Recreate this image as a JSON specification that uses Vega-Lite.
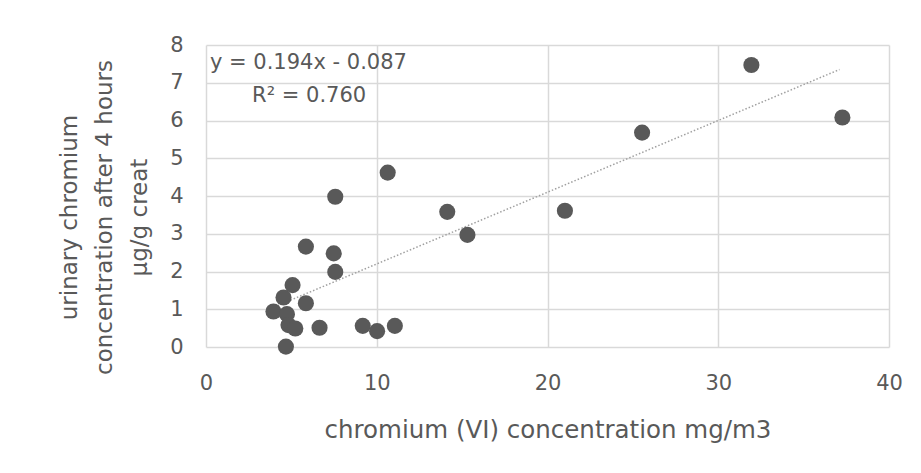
{
  "$schema": "https://vega.github.io/schema/vega-lite/v6.json",
  "width": 683,
  "height": 302,
  "autosize": "none",
  "padding": {"left": 206, "top": 45, "right": 32, "bottom": 126},
  "background": "white",
  "config": {
    "view": {"stroke": null},
    "font": "DejaVu Sans",
    "axis": {
      "grid": true,
      "gridColor": "#d9d9d9",
      "gridWidth": 1.5,
      "domain": false,
      "ticks": false,
      "labelColor": "#595959",
      "titleColor": "#595959",
      "labelFontSize": 21,
      "titleFontSize": 22,
      "titleFontWeight": "normal",
      "labelFont": "DejaVu Sans",
      "titleFont": "DejaVu Sans",
      "labelOverlap": false,
      "labelFlush": false
    }
  },
  "datasets": {
    "points": [
      {"x": 3.95, "y": 0.94},
      {"x": 4.54, "y": 1.31},
      {"x": 4.68, "y": 0.01},
      {"x": 4.74, "y": 0.87},
      {"x": 4.83, "y": 0.58},
      {"x": 5.07, "y": 1.64},
      {"x": 5.23, "y": 0.49},
      {"x": 5.85, "y": 2.66},
      {"x": 5.85, "y": 1.16},
      {"x": 6.65, "y": 0.51},
      {"x": 7.48, "y": 2.48},
      {"x": 7.57, "y": 1.99},
      {"x": 7.57, "y": 3.98},
      {"x": 9.18, "y": 0.56},
      {"x": 10.02, "y": 0.42},
      {"x": 10.64, "y": 4.62},
      {"x": 11.06, "y": 0.56},
      {"x": 14.13, "y": 3.58},
      {"x": 15.31, "y": 2.97},
      {"x": 21.02, "y": 3.61},
      {"x": 25.54, "y": 5.68},
      {"x": 31.94, "y": 7.47},
      {"x": 37.27, "y": 6.08}
    ],
    "trend": [
      {"x": 4.0, "y": 1.06},
      {"x": 37.1, "y": 7.35}
    ],
    "labels": [
      {"x": 0.23, "y": 7.52, "t": "y = 0.194x - 0.087"},
      {"x": 2.7, "y": 6.65, "t": "R² = 0.760"}
    ]
  },
  "layer": [
    {
      "data": {"name": "trend"},
      "mark": {"type": "line", "color": "#a0a0a0", "strokeWidth": 1.5, "strokeDash": [1.5, 2]},
      "encoding": {
        "x": {
          "field": "x", "type": "quantitative",
          "scale": {"domain": [0, 40], "nice": false},
          "axis": {"values": [0, 10, 20, 30, 40], "tickCount": 10, "format": "d", "labelPadding": 25, "title": "chromium (VI) concentration mg/m3", "titlePadding": 25, "titleFontSize": 24.5}
        },
        "y": {
          "field": "y", "type": "quantitative",
          "scale": {"domain": [0, 8], "nice": false},
          "axis": {"values": [0, 1, 2, 3, 4, 5, 6, 7, 8], "tickCount": 12, "format": "d", "labelPadding": 23, "title": ["urinary chromium", "concentration after 4 hours", "µg/g creat"], "titleLineHeight": 35, "titlePadding": 18, "titleFontSize": 23, "titleY": 172}
        }
      }
    },
    {
      "data": {"name": "points"},
      "mark": {"type": "circle", "size": 260, "color": "#595959", "opacity": 1},
      "encoding": {
        "x": {"field": "x", "type": "quantitative"},
        "y": {"field": "y", "type": "quantitative"}
      }
    },
    {
      "data": {"name": "labels"},
      "mark": {"type": "text", "align": "left", "baseline": "middle", "fontSize": 21, "color": "#595959", "font": "DejaVu Sans"},
      "encoding": {
        "x": {"field": "x", "type": "quantitative"},
        "y": {"field": "y", "type": "quantitative"},
        "text": {"field": "t"}
      }
    }
  ]
}
